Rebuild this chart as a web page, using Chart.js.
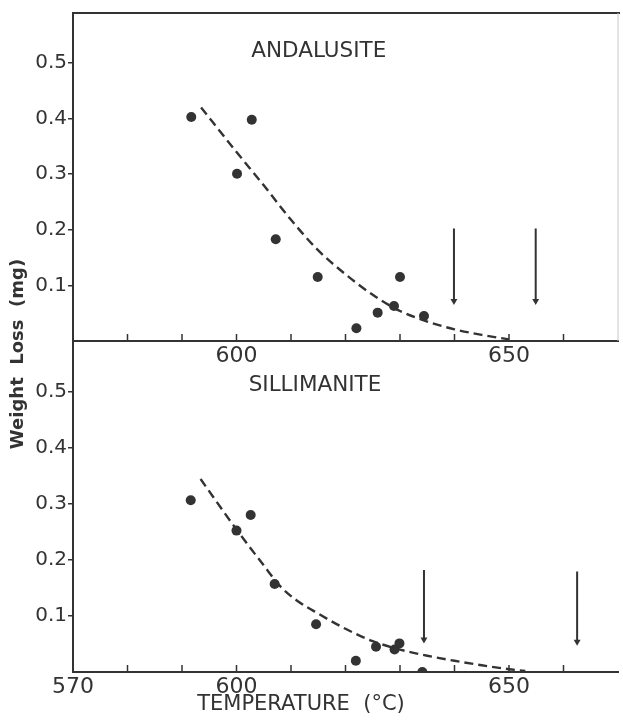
<!DOCTYPE html>
<html><head><meta charset="utf-8">
<script src="https://cdn.jsdelivr.net/npm/chart.js@4.4.0/dist/chart.umd.min.js"></script>
<style>
html,body{margin:0;padding:0;background:#fff;}
#wrap{position:relative;width:623px;height:727px;}
canvas{position:absolute;left:0;top:0;}
</style></head><body>
<div id="wrap"><canvas id="cTop" width="623" height="727"></canvas><canvas id="cBot" width="623" height="727"></canvas></div>
<script>
// ---- data ----
const xTicks = [570,580,590,600,610,620,630,640,650,660,670];
const xLabelsTop = [600,650];
const xLabelsBottom = [570,600,650];
const yTicks = [0.1,0.2,0.3,0.4,0.5];

const andTemp = [591.7,602.8,600.1,607.2,614.9,630.0,628.9,625.9,634.4,622.0];
const andLoss = [0.403,0.398,0.301,0.183,0.115,0.115,0.063,0.051,0.045,0.023];
const andFitTemp = [593.5,600,605,610,615,620,625,630,635,640,645,650];
const andFitLoss = [0.42,0.34,0.28,0.218,0.163,0.12,0.083,0.054,0.035,0.021,0.011,0.003];
const andArrowTemp = [639.9,654.9];
const andArrowFrom = [0.2025,0.2025];
const andArrowTo = [0.072,0.072];

const silTemp = [591.6,600,602.6,607,614.6,621.9,625.6,629,629.9,634.1];
const silLoss = [0.306,0.252,0.28,0.157,0.085,0.02,0.045,0.04,0.051,0.0];
const silFitTemp = [593.4,600,605,608,611,615,620,625,630,635,640,645,650,653];
const silFitLoss = [0.344,0.254,0.19,0.153,0.128,0.104,0.077,0.055,0.04,0.029,0.02,0.012,0.005,0.002];
const silArrowTemp = [634.4,662.5];
const silArrowFrom = [0.182,0.179];
const silArrowTo = [0.058,0.054];

const andLabel = {text:'ANDALUSITE', x:615.1, y:0.52};
const silLabel = {text:'SILLIMANITE', x:614.4, y:0.51};
const yTitle = 'Weight  Loss  (mg)';
const xTitle = 'TEMPERATURE  (°C)';

// ---- style ----
const INK = '#333333';
const FONT = "'DejaVu Sans', sans-serif";

function pts(xs, ys){ return xs.map((v,i)=>({x:v,y:ys[i]})); }

function datasets(t, l, ft, fl, at, af, ato){
  const ds = [
    {data: pts(t,l), showLine:false, pointRadius:5, pointBackgroundColor:INK, pointBorderWidth:0, clip:0},
    {data: pts(ft,fl), showLine:true, pointRadius:0, borderColor:INK, borderWidth:2.4, borderDash:[9,5], cubicInterpolationMode:'monotone', fill:false}
  ];
  at.forEach((v,i)=>{
    ds.push({data:[{x:v,y:af[i]},{x:v,y:ato[i]}], showLine:true, borderColor:INK, borderWidth:2,
      pointRadius:[0,4], pointStyle:'triangle', rotation:180, pointBackgroundColor:INK, pointBorderWidth:0});
  });
  return ds;
}

const framePlugin = {
  id:'frame',
  afterDraw(chart, args, o){
    const {ctx, chartArea:a, scales:{x,y}} = chart;
    ctx.save();
    ctx.strokeStyle = INK; ctx.lineWidth = 1.5;
    xTicks.forEach(v=>{
      const px = x.getPixelForValue(v);
      if (px <= a.left+1 || px >= a.right-1) return;
      ctx.beginPath(); ctx.moveTo(px, a.bottom); ctx.lineTo(px, a.bottom-7); ctx.stroke();
    });
    if (o.frameTop){
      ctx.lineWidth = 2; ctx.beginPath(); ctx.moveTo(a.left, a.top); ctx.lineTo(a.right+2, a.top); ctx.stroke();
      ctx.strokeStyle = '#c8c8c8'; ctx.lineWidth = 1;
      ctx.beginPath(); ctx.moveTo(a.right, a.top); ctx.lineTo(a.right, a.bottom); ctx.stroke();
    }
    ctx.fillStyle = INK;
    ctx.font = "21.5px " + FONT;
    ctx.textAlign = 'center'; ctx.textBaseline = 'middle';
    ctx.fillText(o.label.text, x.getPixelForValue(o.label.x), y.getPixelForValue(o.label.y));
    if (o.titles){
      ctx.font = "21px " + FONT;
      ctx.fillText(xTitle, a.left + 228, 705);
      ctx.save();
      ctx.translate(18, 354); ctx.rotate(-Math.PI/2);
      ctx.font = "bold 18px " + FONT;
      ctx.fillText(yTitle, 0, 0);
      ctx.restore();
    }
    ctx.restore();
  }
};

function makeChart(id, dsets, padTop, xHeight, xLabels, opts){
  return new Chart(document.getElementById(id), {
    type:'scatter',
    data:{datasets:dsets},
    plugins:[framePlugin],
    options:{
      responsive:false, animation:false, devicePixelRatio:1,
      events:[],
      layout:{padding:{left:0,right:2,top:padTop,bottom:0}},
      plugins:{legend:{display:false}, tooltip:{enabled:false}, frame:opts},
      scales:{
        x:{type:'linear', min:570, max:670,
          afterFit(s){ s.height = xHeight; },
          afterBuildTicks(s){ s.ticks = xTicks.map(v=>({value:v})); },
          grid:{display:true, drawOnChartArea:false, drawTicks:false},
          border:{display:true, color:INK, width:2},
          ticks:{autoSkip:false, maxRotation:0, minRotation:0, padding:2, color:INK,
            font:{family:FONT, size:22},
            callback:(v)=> xLabels.includes(v) ? String(v) : ''}
        },
        y:{type:'linear', min:0, max:0.59,
          afterFit(s){ s.width = 73; },
          afterBuildTicks(s){ s.ticks = yTicks.map(v=>({value:v})); },
          grid:{display:true, drawOnChartArea:false, drawTicks:true, tickLength:5, color:INK, lineWidth:1.5},
          border:{display:true, color:INK, width:2},
          ticks:{padding:1, color:INK, font:{family:FONT, size:20},
            callback:(v)=> String(v)}
        }
      }
    }
  });
}

makeChart('cTop', datasets(andTemp,andLoss,andFitTemp,andFitLoss,andArrowTemp,andArrowFrom,andArrowTo),
  13, 727-341, xLabelsTop, {frameTop:true, label:andLabel, titles:false});
makeChart('cBot', datasets(silTemp,silLoss,silFitTemp,silFitLoss,silArrowTemp,silArrowFrom,silArrowTo),
  341, 727-672, xLabelsBottom, {frameTop:false, label:silLabel, titles:true});
</script>
</body></html>
